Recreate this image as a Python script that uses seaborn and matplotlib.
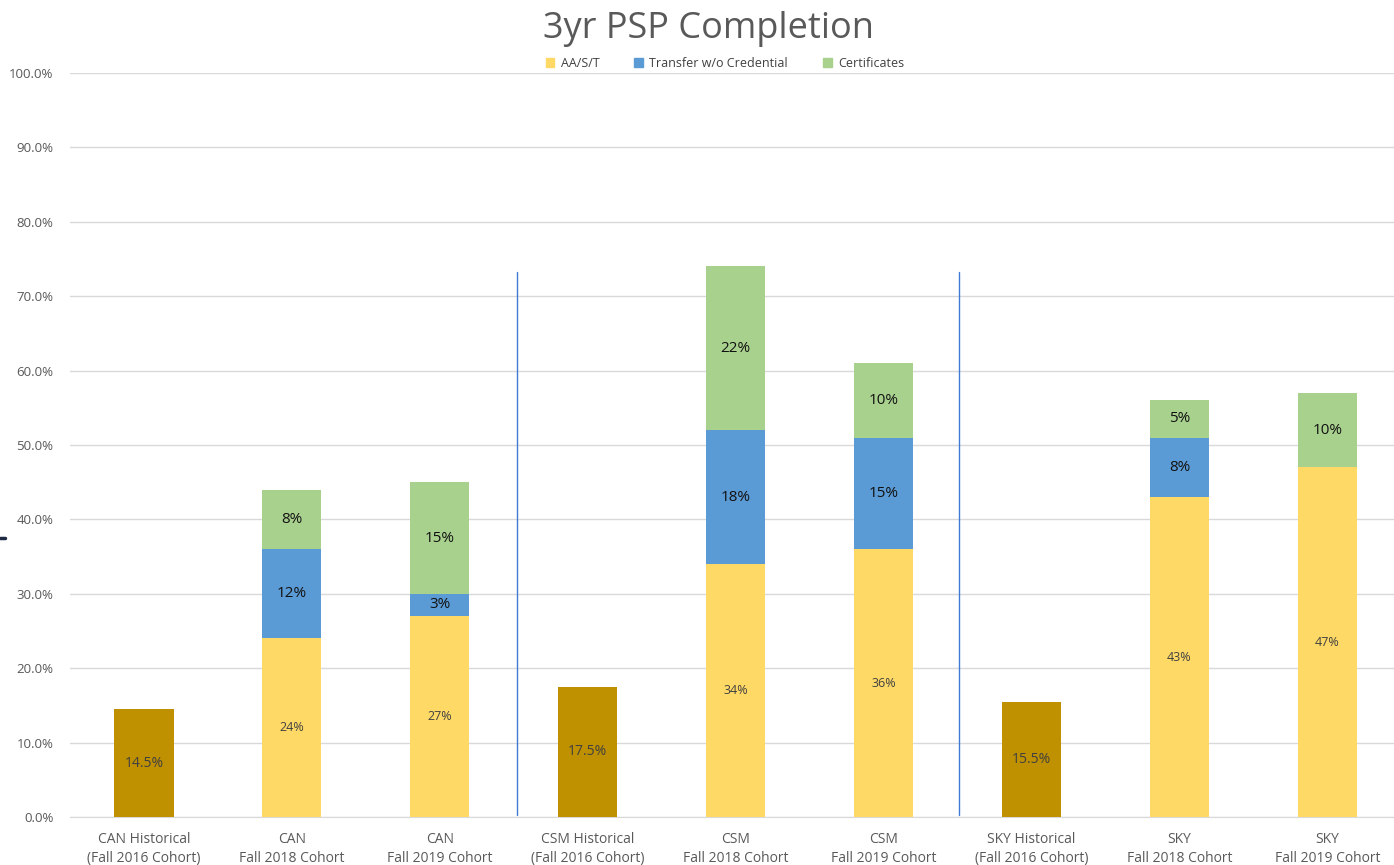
import matplotlib
import matplotlib.pyplot as plt
import seaborn as sns
import pandas as pd
from matplotlib.patches import Patch

matplotlib.use('Agg')

categories = ['CAN Historical\n(Fall 2016 Cohort)', 'CAN\nFall 2018 Cohort', 'CAN\nFall 2019 Cohort',
              'CSM Historical\n(Fall 2016 Cohort)', 'CSM\nFall 2018 Cohort', 'CSM\nFall 2019 Cohort',
              'SKY Historical\n(Fall 2016 Cohort)', 'SKY\nFall 2018 Cohort', 'SKY\nFall 2019 Cohort']
historical = [True, False, False, True, False, False, True, False, False]
aast = [14.5, 24, 27, 17.5, 34, 36, 15.5, 43, 47]
transfer = [0, 12, 3, 0, 18, 15, 0, 8, 0]
certificates = [0, 8, 15, 0, 22, 10, 0, 5, 10]
series_names = ['AA/S/T', 'Transfer w/o Credential', 'Certificates']
divider_pos = [2.52, 5.51]

yellow = '#FFD966'
blue = '#5B9BD5'
green = '#A9D18E'
gold = '#BF9000'

sns.set_style('white')
plt.rcParams['font.family'] = ['Open Sans', 'DejaVu Sans']

df = pd.DataFrame({'cat': categories, 'aast': aast, 'transfer': transfer, 'cert': certificates})
df['b2'] = df['aast'] + df['transfer']

fig = plt.figure(figsize=(13.94, 8.65), dpi=100)
# plot area: x 70..1394 px, y 73..817 px
ax = fig.add_axes([70 / 1394, (865 - 817) / 865, 1324 / 1394, (817 - 73) / 865])

pal1 = [gold if h else yellow for h in historical]
sns.barplot(data=df, x='cat', y='aast', hue='cat', palette=pal1, legend=False,
            width=0.4, ax=ax, saturation=1, zorder=3, linewidth=0)
sns.barplot(data=df, x='cat', y='transfer', bottom=df['aast'], color=blue,
            width=0.4, ax=ax, saturation=1, zorder=3, linewidth=0)
sns.barplot(data=df, x='cat', y='cert', bottom=df['b2'], color=green,
            width=0.4, ax=ax, saturation=1, zorder=3, linewidth=0)

for i in range(len(categories)):
    if historical[i]:
        ax.text(i, aast[i] / 2, f'{aast[i]:.1f}%', ha='center', va='center',
                fontsize=10, color='#404040', zorder=4)
    else:
        ax.text(i, aast[i] / 2, f'{aast[i]:.0f}%', ha='center', va='center',
                fontsize=9, color='#404040', zorder=4)
    if transfer[i] > 0:
        ax.text(i, aast[i] + transfer[i] / 2, f'{transfer[i]:.0f}%', ha='center', va='center',
                fontsize=11, color='#111111', zorder=4)
    if certificates[i] > 0:
        ax.text(i, aast[i] + transfer[i] + certificates[i] / 2, f'{certificates[i]:.0f}%',
                ha='center', va='center', fontsize=11, color='#111111', zorder=4)

for xp in divider_pos:
    ax.plot([xp, xp], [0.3, 73.3], color='#3F7BD6', lw=1, zorder=5)

ax.set_ylim(0, 100)
ax.set_xlim(-0.5, 8.45)
ax.set_yticks(range(0, 101, 10))
ax.set_yticklabels([f'{v:.1f}%' for v in range(0, 101, 10)], fontsize=9.5, color='#595959')
ax.tick_params(axis='x', labelsize=10, labelcolor='#595959', length=0, pad=11)
for lab in ax.get_xticklabels():
    lab.set_linespacing(1.35)
ax.tick_params(axis='y', length=0, pad=12)
ax.yaxis.grid(True, color='#D9D9D9', lw=1, zorder=0)
ax.set_axisbelow(True)
for s in ['top', 'right', 'left']:
    ax.spines[s].set_visible(False)
ax.spines['bottom'].set_color('#D9D9D9')
ax.set_xlabel('')
ax.set_ylabel('')

fig.text(0.508, 0.966, '3yr PSP Completion', ha='center', va='center', fontsize=26, color='#595959')

handles = [Patch(color=c) for c in [yellow, blue, green]]
fig.legend(handles, series_names, loc='center', bbox_to_anchor=(0.52, 0.927), ncol=3, frameon=False,
           fontsize=9, handlelength=0.7, handleheight=0.7, columnspacing=2.8, handletextpad=0.5,
           labelcolor='#404040')

fig.add_artist(plt.Line2D([0, 5 / 1394], [1 - 538 / 865, 1 - 538 / 865], color='#1F2A44', lw=2.5))

fig.savefig('out.png', dpi=100)
